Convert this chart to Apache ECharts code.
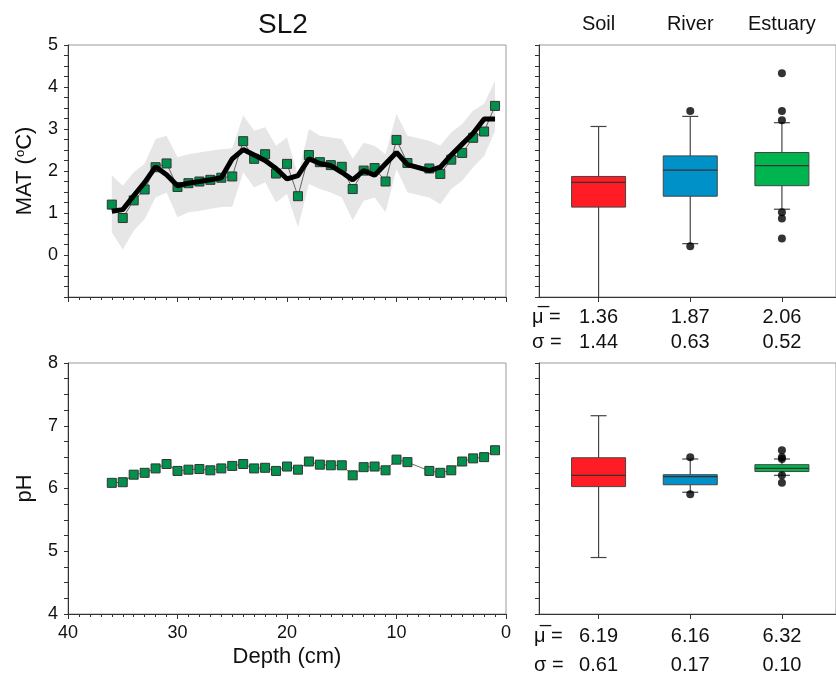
<!DOCTYPE html>
<html>
<head>
    <meta charset="utf-8">
    <title>SL2</title>
    <script src="https://cdn.jsdelivr.net/npm/echarts@6/dist/echarts.min.js"></script>
    <style>
        html, body { margin: 0; padding: 0; background: #fff; }
        #main { width: 836px; height: 681px; }
    </style>
</head>
<body>
<div id="main"></div>
<script type="text/javascript">
    // 深度 (cm) 与各序列
    var depths = [36, 35, 34, 33, 32, 31, 30, 29, 28, 27, 26, 25, 24, 23, 22, 21, 20, 19, 18, 17, 16, 15, 14, 13, 12, 11, 10, 9, 7, 6, 5, 4, 3, 2, 1];
    var matValues = [1.20, 0.88, 1.30, 1.56, 2.09, 2.18, 1.62, 1.71, 1.75, 1.79, 1.84, 1.87, 2.71, 2.29, 2.40, 1.94, 2.17, 1.40, 2.38, 2.21, 2.14, 2.10, 1.57, 2.01, 2.07, 1.75, 2.74, 2.19, 2.06, 1.93, 2.27, 2.43, 2.79, 2.94, 3.55];
    var matSmooth = [1.04, 1.08, 1.41, 1.73, 2.10, 1.91, 1.65, 1.71, 1.75, 1.79, 1.84, 2.29, 2.51, 2.38, 2.25, 2.06, 1.81, 1.89, 2.29, 2.18, 2.13, 1.97, 1.79, 2.01, 1.90, 2.17, 2.44, 2.15, 2.01, 2.09, 2.38, 2.64, 2.90, 3.24, 3.24];
    var bandUpper = [1.90, 1.65, 1.97, 2.17, 2.76, 2.84, 2.33, 2.40, 2.44, 2.48, 2.52, 2.54, 3.33, 2.96, 3.04, 2.60, 2.80, 1.89, 3.00, 2.84, 2.80, 2.76, 2.29, 2.67, 2.60, 2.40, 3.36, 2.84, 2.72, 2.60, 2.92, 3.12, 3.44, 3.60, 4.15];
    var bandLower = [0.54, 0.13, 0.58, 0.86, 1.37, 1.49, 0.90, 1.02, 1.05, 1.10, 1.14, 1.15, 1.97, 1.61, 1.73, 1.25, 1.45, 0.66, 1.69, 1.57, 1.49, 1.37, 0.83, 1.29, 1.37, 1.02, 2.05, 1.49, 1.37, 1.21, 1.57, 1.77, 2.09, 2.36, 2.96];
    var phValues = [6.09, 6.10, 6.22, 6.25, 6.32, 6.39, 6.28, 6.30, 6.31, 6.29, 6.32, 6.36, 6.39, 6.32, 6.33, 6.28, 6.35, 6.30, 6.43, 6.38, 6.37, 6.37, 6.21, 6.34, 6.35, 6.29, 6.46, 6.42, 6.28, 6.25, 6.29, 6.43, 6.48, 6.50, 6.61];

    // 箱线图 [min, Q1, median, Q3, max]
    var groups = ['Soil', 'River', 'Estuary'];
    var groupColors = ['#ff1c24', '#0091c9', '#00b44f'];
    var matBoxes = [[-1.6, 1.14, 1.73, 1.87, 3.06], [0.27, 1.40, 2.02, 2.36, 3.30], [1.09, 1.65, 2.13, 2.44, 3.15]];
    var matOutliers = [[2, 3.43], [2, 0.21], [3, 4.33], [3, 3.43], [3, 3.21], [3, 1.02], [3, 0.87], [3, 0.39]];
    var phBoxes = [[4.90, 6.03, 6.21, 6.49, 7.16], [5.94, 6.06, 6.19, 6.22, 6.47], [6.21, 6.27, 6.32, 6.38, 6.47]];
    var phOutliers = [[2, 6.50], [2, 5.91], [3, 6.61], [3, 6.50], [3, 6.47], [3, 6.21], [3, 6.09]];
    var matMeans = ['1.36', '1.87', '2.06'];
    var matSigmas = ['1.44', '0.63', '0.52'];
    var phMeans = ['6.19', '6.16', '6.32'];
    var phSigmas = ['0.61', '0.17', '0.10'];

    var FONT = 'Liberation Sans, Arial, sans-serif';

    function zip(a, b) {
        return a.map(function (v, i) { return [v, b[i]]; });
    }
    function boxData(boxes) {
        return boxes.map(function (b, i) { return [i + 1].concat(b); });
    }
    function renderBox(params, api) {
        var x = api.value(0);
        var pMin = api.coord([x, api.value(1)]);
        var pQ1 = api.coord([x, api.value(2)]);
        var pMed = api.coord([x, api.value(3)]);
        var pQ3 = api.coord([x, api.value(4)]);
        var pMax = api.coord([x, api.value(5)]);
        var cx = pMed[0], half = 27, cap = 8;
        var ls = { stroke: '#444', lineWidth: 1.2 };
        return {
            type: 'group',
            children: [
                { type: 'line', shape: { x1: cx, y1: pMax[1], x2: cx, y2: pMin[1] }, style: ls },
                { type: 'line', shape: { x1: cx - cap, y1: pMax[1], x2: cx + cap, y2: pMax[1] }, style: ls },
                { type: 'line', shape: { x1: cx - cap, y1: pMin[1], x2: cx + cap, y2: pMin[1] }, style: ls },
                { type: 'rect', shape: { x: cx - half, y: pQ3[1], width: half * 2, height: pQ1[1] - pQ3[1] },
                  style: { fill: groupColors[params.dataIndex], stroke: '#444', lineWidth: 1 } },
                { type: 'line', shape: { x1: cx - half, y1: pMed[1], x2: cx + half, y2: pMed[1] }, style: { stroke: '#333', lineWidth: 1.2 } }
            ]
        };
    }
    // 灰色置信带：在第一个数据项处画出整个多边形
    function renderBand(params, api) {
        if (params.dataIndex !== 0) return null;
        var pts = [];
        for (var i = 0; i < depths.length; i++) pts.push(api.coord([depths[i], bandUpper[i]]));
        for (var j = depths.length - 1; j >= 0; j--) pts.push(api.coord([depths[j], bandLower[j]]));
        return { type: 'polygon', shape: { points: pts }, style: { fill: '#e6e6e6' } };
    }

    var depthAxis = function (grid, showLabel) {
        return {
            type: 'value', gridIndex: grid, min: 0, max: 40, interval: 10, inverse: true,
            axisLine: { onZero: false, lineStyle: { color: '#333' } },
            axisTick: { inside: false, length: 5, lineStyle: { color: '#333' } },
            minorTick: { show: true, splitNumber: 10, length: 3, lineStyle: { color: '#333' } },
            splitLine: { show: false },
            axisLabel: { show: showLabel, fontSize: 18, color: '#111', fontFamily: FONT, margin: 10 }
        };
    };
    var boxAxis = function (grid, means, sigmas, lh) {
        return {
            type: 'value', gridIndex: grid, min: 0.35, max: 3.59,
            axisLine: { onZero: false, lineStyle: { color: '#333' } },
            axisTick: { length: 5, customValues: [1, 2, 3], lineStyle: { color: '#333' } },
            splitLine: { show: false },
            axisLabel: {
                customValues: [1, 2, 3], fontSize: 20, lineHeight: lh, color: '#111', fontFamily: FONT, margin: 8,
                formatter: function (v) { var i = Math.round(v) - 1; return means[i] + '\n' + sigmas[i]; }
            }
        };
    };
    var valueAxis = function (grid, min, max, name, showLabel, hideBelow) {
        return {
            type: 'value', gridIndex: grid, min: min, max: max, interval: 1,
            name: name, nameLocation: 'middle', nameGap: 32,
            nameTextStyle: {
                fontSize: 22, color: '#111', fontFamily: FONT,
                rich: { sup: { fontSize: 13, verticalAlign: 'top', fontFamily: FONT, color: '#111' } }
            },
            axisLine: { onZero: false, lineStyle: { color: '#333' } },
            axisTick: { length: 4, lineStyle: { color: '#333' } },
            minorTick: { show: true, splitNumber: 4, length: 4, lineStyle: { color: '#333' } },
            splitLine: { show: false },
            axisLabel: {
                show: showLabel, fontSize: 18, color: '#111', fontFamily: FONT, margin: 10,
                formatter: function (v) { return v < hideBelow ? '' : v; }
            }
        };
    };

    var myChart = echarts.init(document.getElementById('main'));
    myChart.setOption({
        animation: false,
        textStyle: { fontFamily: FONT },
        grid: [
            { left: 68, top: 45, width: 438, height: 252, show: true, borderColor: '#999' },
            { left: 539, top: 45, right: -1, height: 252, show: true, borderColor: '#999' },
            { left: 68, top: 363, width: 438, height: 251, show: true, borderColor: '#999' },
            { left: 539, top: 363, right: -1, height: 251, show: true, borderColor: '#999' }
        ],
        xAxis: [
            depthAxis(0, false),
            boxAxis(1, matMeans, matSigmas, 25),
            {
                type: 'value', gridIndex: 1, position: 'top', min: 0.35, max: 3.59,
                axisLine: { show: false, onZero: false }, axisTick: { show: false }, splitLine: { show: false },
                axisLabel: {
                    customValues: [1, 2, 3], fontSize: 20, color: '#111', fontFamily: FONT, margin: 11,
                    formatter: function (v) { return groups[Math.round(v) - 1]; }
                }
            },
            Object.assign(depthAxis(2, true), {
                name: 'Depth (cm)', nameLocation: 'middle', nameGap: 32,
                nameTextStyle: { fontSize: 22, color: '#111', fontFamily: FONT }
            }),
            boxAxis(3, phMeans, phSigmas, 29)
        ],
        yAxis: [
            valueAxis(0, -1, 5, 'MAT ({sup|o}C)', true, 0),
            valueAxis(1, -1, 5, '', false, 0),
            valueAxis(2, 4, 8, 'pH', true, 4),
            valueAxis(3, 4, 8, '', false, 4)
        ],
        graphic: [
            { type: 'text', x: 283, y: 25, style: { text: 'SL2', fontSize: 28, fill: '#111', fontFamily: FONT, textAlign: 'center', textVerticalAlign: 'middle' } },
            { type: 'text', x: 532, y: 317, style: { text: 'μ\u0305 =', fontSize: 20, fill: '#111', fontFamily: FONT, textVerticalAlign: 'middle' } },
            { type: 'text', x: 532, y: 342, style: { text: 'σ =', fontSize: 20, fill: '#111', fontFamily: FONT, textVerticalAlign: 'middle' } },
            { type: 'text', x: 534, y: 636, style: { text: 'μ\u0305 =', fontSize: 20, fill: '#111', fontFamily: FONT, textVerticalAlign: 'middle' } },
            { type: 'text', x: 534, y: 665, style: { text: 'σ =', fontSize: 20, fill: '#111', fontFamily: FONT, textVerticalAlign: 'middle' } }
        ],
        series: [
            {
                type: 'custom', xAxisIndex: 0, yAxisIndex: 0, clip: true,
                data: zip(depths, bandUpper), renderItem: renderBand, z: 1
            },
            {
                type: 'line', xAxisIndex: 0, yAxisIndex: 0, data: zip(depths, matValues),
                symbol: 'rect', symbolSize: 9, showAllSymbol: true,
                lineStyle: { color: '#444', width: 0.8 },
                itemStyle: { color: '#00924c', borderColor: '#333', borderWidth: 1 }, z: 3
            },
            {
                type: 'line', xAxisIndex: 0, yAxisIndex: 0, data: zip(depths, matSmooth),
                symbol: 'none', lineStyle: { color: '#000', width: 5 }, z: 4
            },
            {
                type: 'custom', xAxisIndex: 1, yAxisIndex: 1, clip: true,
                data: boxData(matBoxes), renderItem: renderBox, z: 2
            },
            {
                type: 'scatter', xAxisIndex: 1, yAxisIndex: 1, data: matOutliers,
                symbol: 'circle', symbolSize: 8, itemStyle: { color: '#000' }, z: 3
            },
            {
                type: 'line', xAxisIndex: 3, yAxisIndex: 2, data: zip(depths, phValues),
                symbol: 'rect', symbolSize: 9, showAllSymbol: true,
                lineStyle: { color: '#444', width: 0.8 },
                itemStyle: { color: '#00924c', borderColor: '#333', borderWidth: 1 }, z: 3
            },
            {
                type: 'custom', xAxisIndex: 4, yAxisIndex: 3, clip: true,
                data: boxData(phBoxes), renderItem: renderBox, z: 2
            },
            {
                type: 'scatter', xAxisIndex: 4, yAxisIndex: 3, data: phOutliers,
                symbol: 'circle', symbolSize: 8, itemStyle: { color: '#000' }, z: 3
            }
        ]
    });
</script>
</body>
</html>
